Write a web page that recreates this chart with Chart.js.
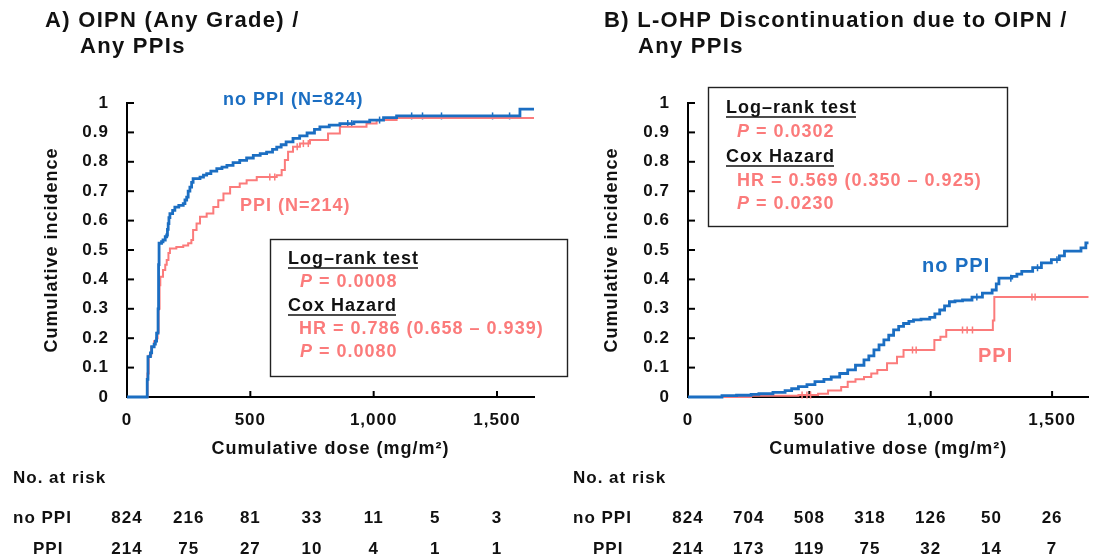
<!DOCTYPE html>
<html>
<head>
<meta charset="utf-8">
<script src="https://cdn.jsdelivr.net/npm/chart.js@4/dist/chart.umd.min.js"></script>
<style>
html,body{margin:0;padding:0;background:#fff;}
#wrap{position:relative;width:1094px;height:556px;overflow:hidden;background:#fff;}
#ca{position:absolute;left:0;top:0;}
#cb{position:absolute;left:560px;top:0;}
</style>
</head>
<body>
<div id="wrap">
<canvas id="ca" width="600" height="556"></canvas>
<canvas id="cb" width="534" height="556"></canvas>
</div>
<script>
// ---------- data ----------
const xTickValues = [0, 500, 1000, 1500];
const yTickValues = [0, 0.1, 0.2, 0.3, 0.4, 0.5, 0.6, 0.7, 0.8, 0.9, 1];
const yTickLabels = ['0', '0.1', '0.2', '0.3', '0.4', '0.5', '0.6', '0.7', '0.8', '0.9', '1'];
const riskDoses = [0, 250, 500, 750, 1000, 1250, 1500];

// Panel A: OIPN (any grade)
const aNoPpiDose = [0,80,82,85,95,100,110,115,120,126,128,130,140,146,155,161,164,167,170,174,185,194,210,228,235,242,248,255,262,268,296,310,323,340,364,385,405,430,457,485,512,540,566,590,607,625,645,673,700,730,760,782,820,863,920,984,1040,1093,1593,1650];
const aNoPpiInc  = [0,0,0.06,0.137,0.15,0.171,0.18,0.19,0.217,0.3,0.45,0.523,0.528,0.534,0.545,0.551,0.57,0.59,0.61,0.624,0.635,0.646,0.652,0.658,0.67,0.68,0.7,0.714,0.73,0.743,0.748,0.755,0.76,0.768,0.777,0.782,0.788,0.797,0.805,0.813,0.822,0.828,0.833,0.842,0.85,0.858,0.868,0.88,0.888,0.898,0.91,0.919,0.925,0.93,0.936,0.942,0.95,0.956,0.979,0.979];
const aPpiDose = [0,80,83,88,98,110,118,124,128,132,135,146,155,161,168,174,200,228,248,261,268,282,296,323,350,370,391,418,457,485,526,607,627,640,653,673,701,742,815,863,971,1012,1093,1650];
const aPpiInc  = [0,0,0.08,0.14,0.17,0.19,0.2,0.22,0.3,0.38,0.409,0.432,0.45,0.466,0.49,0.505,0.51,0.515,0.523,0.534,0.568,0.59,0.613,0.624,0.646,0.669,0.692,0.714,0.726,0.737,0.748,0.754,0.772,0.806,0.834,0.851,0.862,0.874,0.896,0.919,0.93,0.942,0.949,0.949];
const aNoPpiCensor = [895, 911, 1024, 1154, 1198, 1275, 1482, 1551];
const aPpiCensor = [579, 599, 690, 715, 735];
const aRiskNoPpi = [824, 216, 81, 33, 11, 5, 3];
const aRiskPpi = [214, 75, 27, 10, 4, 1, 1];

// Panel B: L-OHP discontinuation due to OIPN
const bNoPpiDose = [0,130,140,200,260,292,350,400,427,455,490,523,560,590,625,658,690,725,745,766,787,807,827,847,868,888,910,929,960,996,1017,1037,1057,1077,1100,1131,1170,1213,1253,1270,1281,1334,1355,1375,1420,1456,1497,1530,1551,1619,1639,1650];
const bNoPpiInc  = [0,0,0.005,0.006,0.009,0.011,0.016,0.022,0.028,0.035,0.042,0.052,0.06,0.068,0.08,0.092,0.108,0.126,0.14,0.16,0.177,0.194,0.21,0.228,0.24,0.25,0.257,0.262,0.265,0.271,0.283,0.296,0.31,0.324,0.327,0.33,0.34,0.353,0.364,0.385,0.404,0.41,0.418,0.427,0.44,0.456,0.467,0.48,0.496,0.507,0.524,0.524];
const bPpiDose = [0,250,260,455,536,577,631,658,690,725,755,780,820,861,888,1010,1015,1040,1064,1254,1256,1262,1650];
const bPpiInc  = [0,0,0.004,0.007,0.011,0.022,0.034,0.052,0.06,0.068,0.08,0.092,0.115,0.137,0.16,0.16,0.194,0.205,0.228,0.228,0.26,0.34,0.34];
const bNoPpiCensor = [1190, 1330, 1440, 1520];
const bPpiCensor = [470, 490, 505, 925, 940, 1131, 1150, 1172, 1417, 1430];
const bRiskNoPpi = [824, 704, 508, 318, 126, 50, 26];
const bRiskPpi = [214, 173, 119, 75, 32, 14, 7];

// ---------- styles ----------
const BLUE = '#1b6ec2';
const PINK = '#fb7b7b';
const INK = '#111111';
const FAM = "'Liberation Sans', Arial, Helvetica, sans-serif";

function pts(xs, ys) { return xs.map((x, i) => ({ x: x, y: ys[i] })); }
function stepAt(d, xs, ys) { let v = 0; for (let i = 0; i < xs.length; i++) { if (xs[i] <= d) v = ys[i]; } return v; }
function censor(cx, xs, ys) { return cx.map(d => ({ x: d, y: stepAt(d, xs, ys) })); }

function txt(ctx, s, x, y, o) {
  ctx.save();
  ctx.font = (o.italic ? 'italic ' : '') + (o.bold === false ? '' : 'bold ') + o.size + 'px ' + FAM;
  ctx.letterSpacing = (o.sp === undefined ? 1 : o.sp) + 'px';
  ctx.fillStyle = o.color || INK;
  ctx.textAlign = o.align || 'left';
  ctx.textBaseline = 'alphabetic';
  ctx.fillText(s, x, y);
  const w = ctx.measureText(s).width;
  if (o.underline) {
    ctx.strokeStyle = o.color || INK; ctx.lineWidth = 1.6;
    ctx.beginPath(); ctx.moveTo(x, y + 4); ctx.lineTo(x + w - 1, y + 4); ctx.stroke();
  }
  ctx.restore();
  return w;
}
function pLine(ctx, s, x, y) {
  const w = txt(ctx, 'P', x, y, { size: 18, italic: true, color: PINK });
  txt(ctx, s, x + w, y, { size: 18, color: PINK });
}

const spacingPlugin = {
  id: 'spacing',
  beforeUpdate(c) { c.ctx.letterSpacing = '1px'; },
  beforeDraw(c) { c.ctx.letterSpacing = '1px'; }
};
const innerTicks = {
  id: 'innerTicks',
  beforeDatasetsDraw(c) {
    const ctx = c.ctx, a = c.chartArea, xs = c.scales.x, ys = c.scales.y;
    ctx.save(); ctx.strokeStyle = '#000'; ctx.lineWidth = 2;
    yTickValues.forEach(v => { const y = ys.getPixelForValue(v); ctx.beginPath(); ctx.moveTo(a.left, y); ctx.lineTo(a.left + 7, y); ctx.stroke(); });
    xTickValues.slice(1).forEach(v => { const x = xs.getPixelForValue(v); ctx.beginPath(); ctx.moveTo(x, a.bottom); ctx.lineTo(x, a.bottom - 6); ctx.stroke(); });
    ctx.restore();
  }
};
function riskTable(c, noRow, ppiRow, labelX) {
  const ctx = c.ctx, xs = c.scales.x;
  txt(ctx, 'No. at risk', labelX, 483, { size: 17 });
  txt(ctx, 'no PPI', labelX, 523, { size: 17 });
  txt(ctx, 'PPI', labelX + 20, 554, { size: 17 });
  riskDoses.forEach((d, i) => {
    const x = xs.getPixelForValue(d);
    txt(ctx, String(noRow[i]), x, 523, { size: 17, align: 'center' });
    txt(ctx, String(ppiRow[i]), x, 554, { size: 17, align: 'center' });
  });
}

function makePanel(id, cfg) {
  const font = { family: FAM, size: 17, weight: 'bold' };
  const tfont = { family: FAM, size: 18, weight: 'bold' };
  return new Chart(document.getElementById(id), {
    type: 'line',
    data: {
      datasets: [
        { label: 'no PPI', data: pts(cfg.noX, cfg.noY), borderColor: BLUE, backgroundColor: BLUE, borderWidth: 2.8, stepped: 'before', pointRadius: 0, fill: false, clip: 6 },
        { label: 'PPI', data: pts(cfg.pX, cfg.pY), borderColor: PINK, backgroundColor: PINK, borderWidth: 2, stepped: 'before', pointRadius: 0, fill: false, clip: 6 },
        { label: 'no PPI censored', data: censor(cfg.noC, cfg.noX, cfg.noY), showLine: false, pointStyle: 'line', rotation: 90, pointRadius: 3.5, borderColor: BLUE, borderWidth: 1.5, clip: 6 },
        { label: 'PPI censored', data: censor(cfg.pC, cfg.pX, cfg.pY), showLine: false, pointStyle: 'line', rotation: 90, pointRadius: 3.5, borderColor: PINK, borderWidth: 1.5, clip: 6 }
      ]
    },
    options: {
      responsive: false,
      animation: false,
      events: [],
      layout: { padding: { left: 0, top: 103, right: cfg.padRight, bottom: 86 } },
      plugins: { legend: { display: false }, tooltip: { enabled: false } },
      scales: {
        x: {
          type: 'linear', min: 0, max: 1650,
          afterBuildTicks: s => { s.ticks = xTickValues.map(v => ({ value: v })); },
          afterFit: s => { s.height = 73; },
          grid: { display: false, drawTicks: false, tickLength: 0 },
          border: { display: true, color: '#000', width: 2 },
          ticks: { font: font, color: INK, padding: 13, maxRotation: 0, autoSkip: false, callback: v => Number(v).toLocaleString('en-US') },
          title: { display: true, text: 'Cumulative dose (mg/m²)', font: tfont, color: INK, padding: { top: 0, bottom: 10 } }
        },
        y: {
          type: 'linear', min: 0, max: 1,
          afterBuildTicks: s => { s.ticks = yTickValues.map(v => ({ value: v })); },
          afterFit: s => { s.width = cfg.yWidth; },
          grid: { display: false, drawTicks: false, tickLength: 0 },
          border: { display: true, color: '#000', width: 2 },
          ticks: { font: font, color: INK, padding: 18, autoSkip: false, callback: (v) => yTickLabels[yTickValues.findIndex(t => Math.abs(t - v) < 1e-6)] },
          title: { display: true, text: 'Cumulative incidence', font: tfont, color: INK, padding: { top: 41, bottom: 0 } }
        }
      }
    },
    plugins: [spacingPlugin, innerTicks, { id: 'notes', afterDraw: c => cfg.notes(c) }]
  });
}

makePanel('ca', {
  noX: aNoPpiDose, noY: aNoPpiInc, pX: aPpiDose, pY: aPpiInc, noC: aNoPpiCensor, pC: aPpiCensor,
  padRight: 66, yWidth: 127,
  notes: c => {
    const ctx = c.ctx;
    txt(ctx, 'A) OIPN (Any Grade) /', 45, 27, { size: 22, sp: 1.3 });
    txt(ctx, 'Any PPIs', 80, 53, { size: 22, sp: 1.3 });
    txt(ctx, 'no PPI (N=824)', 223, 105, { size: 18, color: BLUE });
    txt(ctx, 'PPI (N=214)', 240, 211, { size: 18, color: PINK });
    ctx.save(); ctx.strokeStyle = '#222'; ctx.lineWidth = 1.4; ctx.strokeRect(270.5, 239.5, 297, 137); ctx.restore();
    txt(ctx, 'Log–rank test', 288, 264, { size: 18, underline: true });
    pLine(ctx, ' = 0.0008', 300, 287);
    txt(ctx, 'Cox Hazard', 288, 311, { size: 18, underline: true });
    txt(ctx, 'HR = 0.786 (0.658 – 0.939)', 299, 334, { size: 18, color: PINK });
    pLine(ctx, ' = 0.0080', 300, 357);
    riskTable(c, aRiskNoPpi, aRiskPpi, 13);
  }
});

makePanel('cb', {
  noX: bNoPpiDose, noY: bNoPpiInc, pX: bPpiDose, pY: bPpiInc, noC: bNoPpiCensor, pC: bPpiCensor,
  padRight: 0, yWidth: 128,
  notes: c => {
    const ctx = c.ctx;
    txt(ctx, 'B) L-OHP Discontinuation due to OIPN /', 44, 27, { size: 22, sp: 1.3 });
    txt(ctx, 'Any PPIs', 78, 53, { size: 22, sp: 1.3 });
    txt(ctx, 'no PPI', 362, 272, { size: 20, color: BLUE });
    txt(ctx, 'PPI', 418, 362, { size: 20, color: PINK });
    ctx.save(); ctx.strokeStyle = '#222'; ctx.lineWidth = 1.4; ctx.strokeRect(148.5, 87.5, 299, 139); ctx.restore();
    txt(ctx, 'Log–rank test', 166, 113, { size: 18, underline: true });
    pLine(ctx, ' = 0.0302', 177, 137);
    txt(ctx, 'Cox Hazard', 166, 162, { size: 18, underline: true });
    txt(ctx, 'HR = 0.569 (0.350 – 0.925)', 177, 186, { size: 18, color: PINK });
    pLine(ctx, ' = 0.0230', 177, 209);
    riskTable(c, bRiskNoPpi, bRiskPpi, 13);
  }
});
</script>
</body>
</html>
